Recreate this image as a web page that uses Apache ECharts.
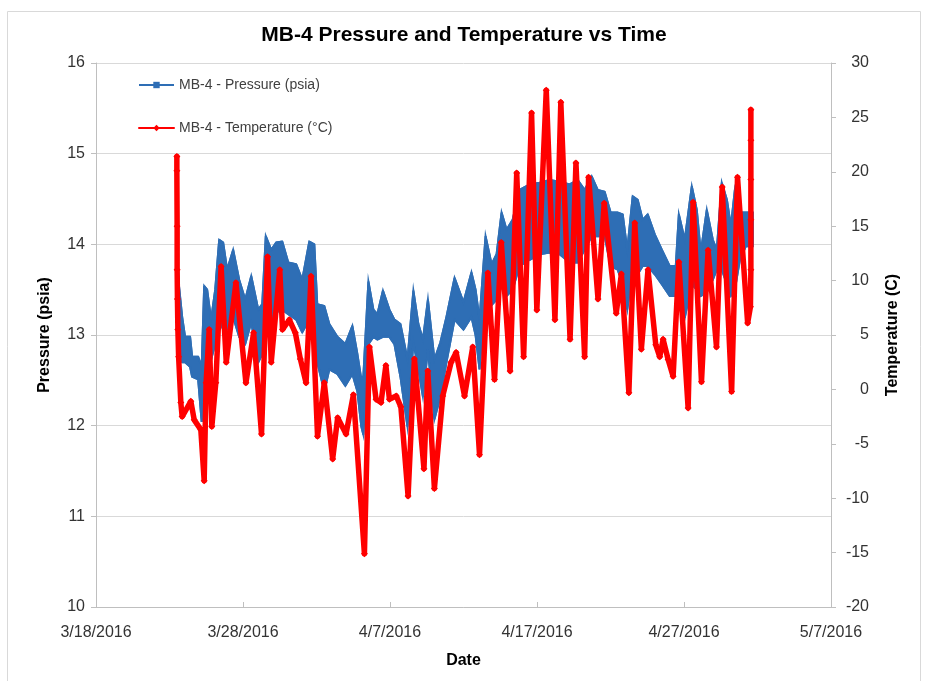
<!DOCTYPE html>
<html>
<head>
<meta charset="utf-8">
<title>MB-4 Pressure and Temperature vs Time</title>
<script src="https://cdn.jsdelivr.net/npm/echarts@6/dist/echarts.min.js"></script>
<style>
  html, body { margin: 0; padding: 0; background: #fff; }
  #chart { width: 928px; height: 681px; }
</style>
</head>
<body>
<div id="chart"></div>
<script>
// x values are days after 3/18/2016
var dateTicks = ['3/18/2016', '3/28/2016', '4/7/2016', '4/17/2016', '4/27/2016', '5/7/2016'];

// pressure: upper and lower edge of the (daily swinging) band, psia
var presDay = [
  5.45, 5.62, 5.86, 6.06, 6.40, 6.54, 6.95, 7.19, 7.36, 7.56,
  7.83, 8.11, 8.38, 8.65, 8.92, 9.33, 9.74, 10.15, 10.56, 11.04,
  11.31, 11.55, 11.92, 12.26, 12.67, 13.08, 13.62, 14.03, 14.51, 14.85,
  15.05, 15.53, 15.87, 16.42, 16.96, 17.44, 17.78, 18.05, 18.19, 18.53,
  18.87, 19.14, 19.52, 19.96, 20.30, 20.71, 21.19, 21.59, 21.93, 22.24,
  22.58, 23.02, 23.43, 23.84, 24.39, 25.00, 25.54, 25.82, 26.09, 26.50,
  26.91, 27.25, 27.59, 27.93, 28.34, 28.81, 29.50, 30.18, 30.86, 31.54,
  32.22, 32.77, 33.24, 33.72, 34.13, 34.60, 35.01, 35.49, 35.83, 36.14,
  36.51, 36.85, 37.19, 37.53, 38.01, 38.49, 39.03, 39.44, 39.65, 40.05,
  40.53, 40.87, 41.14, 41.55, 41.96, 42.23, 42.57, 42.92, 43.19, 43.46,
  43.80, 44.21, 44.69
];
var presHigh = [
  14.20, 13.58, 13.20, 12.98, 12.98, 12.76, 12.76, 12.65, 13.54, 13.50,
  13.17, 13.50, 14.05, 14.02, 13.72, 13.94, 13.61, 13.39, 13.65, 13.28,
  13.34, 14.09, 13.94, 14.02, 14.03, 13.80, 13.78, 13.61, 14.03, 14.00,
  13.34, 13.32, 13.12, 12.98, 12.90, 13.10, 12.79, 12.51, 12.55, 13.59,
  13.28, 13.23, 13.49, 13.28, 13.17, 13.12, 12.73, 13.49, 13.12, 12.95,
  13.39, 12.73, 12.92, 13.20, 13.63, 13.36, 13.69, 13.50, 13.17, 14.09,
  13.78, 13.89, 14.35, 14.16, 14.27, 14.60, 14.66, 14.68, 14.71, 14.69,
  14.66, 14.71, 14.60, 14.75, 14.60, 14.58, 14.35, 14.35, 14.33, 13.94,
  14.53, 14.49, 14.27, 14.33, 14.11, 13.94, 13.76, 13.76, 14.33, 14.05,
  14.64, 14.38, 13.91, 14.38, 14.05, 13.94, 14.68, 14.49, 14.20, 14.60,
  14.35, 14.35, 14.35
];
var presLow = [
  13.87, 13.06, 12.70, 12.70, 12.65, 12.54, 12.51, 12.04, 12.40, 12.90,
  12.73, 12.90, 13.17, 13.06, 13.06, 13.20, 12.98, 12.90, 13.14, 12.70,
  12.79, 13.17, 13.17, 13.25, 13.28, 13.23, 13.17, 13.03, 13.17, 13.06,
  12.70, 12.38, 12.62, 12.57, 12.44, 12.57, 12.38, 11.99, 11.90, 12.90,
  12.98, 12.95, 12.98, 12.98, 12.90, 12.54, 11.99, 12.92, 12.62, 12.32,
  12.84, 12.07, 12.32, 12.70, 13.17, 13.06, 13.20, 13.00, 12.62, 13.43,
  13.33, 13.39, 13.56, 13.43, 13.50, 13.76, 13.83, 13.89, 13.91, 13.89,
  13.80, 13.80, 13.94, 14.09, 14.09, 14.09, 13.76, 13.72, 13.56, 13.28,
  13.72, 13.67, 13.76, 13.76, 13.67, 13.56, 13.43, 13.43, 13.50, 13.19,
  13.56, 13.50, 13.43, 13.47, 13.61, 13.72, 13.72, 13.56, 13.43, 13.50,
  13.83, 13.98, 13.98
];

// temperature, deg C (daily highs / lows)
var tempDay = [
  5.50, 5.50, 5.52, 5.52, 5.54, 5.57, 5.62, 5.77, 5.86, 6.45,
  6.68, 7.13, 7.36, 7.49, 7.70, 7.88, 8.15, 8.51, 8.86, 9.52,
  10.20, 10.72, 11.26, 11.67, 11.92, 12.50, 12.69, 13.15, 13.56, 13.90,
  14.29, 14.63, 15.07, 15.53, 16.10, 16.44, 17.01, 17.51, 18.26, 18.60,
  19.05, 19.39, 19.72, 19.96, 20.42, 20.74, 21.23, 21.66, 22.31, 22.57,
  23.02, 23.59, 24.16, 24.50, 25.07, 25.63, 26.09, 26.66, 27.11, 27.57,
  28.17, 28.62, 29.09, 29.63, 29.99, 30.63, 31.22, 31.62, 32.25, 32.65,
  33.24, 33.51, 34.15, 34.57, 35.39, 35.74, 36.25, 36.65, 37.10, 37.55,
  38.08, 38.35, 38.58, 38.92, 39.26, 39.65, 40.28, 40.62, 41.19, 41.64,
  42.21, 42.60, 43.24, 43.64, 44.33, 44.52, 44.55, 44.55, 44.55, 44.55,
  44.55
];
var tempC = [
  21.4, 20.1, 15.0, 11.0, 8.3, 5.5, 3.0, -1.2, -2.5, -1.1,
  -2.8, -3.7, -8.4, 0.6, 5.5, -3.4, 0.6, 11.3, 2.5, 9.8,
  0.6, 5.2, -4.1, 12.2, 2.5, 11.0, 5.5, 6.4, 5.2, 2.8,
  0.6, 10.4, -4.3, 0.6, -6.4, -2.6, -4.1, -0.5, -15.1, 3.9,
  -0.9, -1.2, 2.2, -0.9, -0.6, -1.6, -9.8, 2.8, -7.3, 1.7,
  -9.1, -0.6, 2.5, 3.4, -0.6, 3.9, -6.0, 10.7, 0.9, 13.5,
  1.7, 19.9, 3.0, 25.4, 7.3, 27.5, 6.4, 26.4, 4.6, 20.8,
  3.0, 19.5, 8.3, 17.1, 7.0, 10.6, -0.3, 15.3, 3.7, 11.0,
  4.1, 3.0, 4.6, 2.75, 1.2, 11.7, -1.7, 17.2, 0.7, 12.8,
  3.9, 18.6, -0.2, 19.5, 6.1, 7.6, 11.0, 15.6, 19.3, 22.9,
  25.7
];

(function () {
  var myChart = echarts.init(document.getElementById('chart'));
  var blue = '#2E6EB5';
  var red = '#FF0000';
  var font = '"Liberation Sans", Arial, sans-serif';

  var highData = presDay.map(function (d, i) { return [d, presHigh[i]]; });
  var lowData = presDay.map(function (d, i) { return [d, presLow[i]]; });
  var tempData = tempDay.map(function (d, i) { return [d, tempC[i]]; });

  var option = {
    animation: false,
    textStyle: { fontFamily: font },
    graphic: [{
      type: 'rect',
      silent: true,
      shape: { x: 7.5, y: 11.5, width: 913, height: 700 },
      style: { fill: 'none', stroke: '#d9d9d9', lineWidth: 1 }
    }],
    title: {
      text: 'MB-4 Pressure and Temperature vs Time',
      left: 'center',
      top: 20,
      textStyle: { fontFamily: font, fontSize: 21, fontWeight: 'bold', color: '#000' }
    },
    legend: {
      orient: 'vertical',
      left: 133,
      top: 73,
      itemWidth: 35,
      itemHeight: 8,
      itemGap: 29,
      data: ['MB-4 - Pressure (psia)', 'MB-4 - Temperature (°C)'],
      lineStyle: { width: 2 },
      textStyle: { fontFamily: font, fontSize: 14, color: '#404040' }
    },
    grid: { left: 96, right: 97, top: 63, bottom: 74 },
    xAxis: {
      type: 'value',
      min: 0,
      max: 50,
      interval: 10,
      name: 'Date',
      nameLocation: 'middle',
      nameGap: 46,
      nameTextStyle: { fontFamily: font, fontSize: 16, fontWeight: 'bold', color: '#000' },
      axisLine: { onZero: false, lineStyle: { color: '#bfbfbf' } },
      axisTick: { inside: true, length: 5, lineStyle: { color: '#bfbfbf' } },
      axisLabel: {
        margin: 18,
        fontSize: 16,
        color: '#333',
        formatter: function (v) { return dateTicks[Math.round(v / 10)]; }
      },
      splitLine: { show: false }
    },
    yAxis: [
      {
        type: 'value',
        position: 'left',
        min: 10,
        max: 16,
        interval: 1,
        name: 'Pressure (psia)',
        nameLocation: 'middle',
        nameRotate: 90,
        nameGap: 43,
        nameTextStyle: { fontFamily: font, fontSize: 16, fontWeight: 'bold', color: '#000' },
        axisLine: { show: true, onZero: false, lineStyle: { color: '#bfbfbf' } },
        axisTick: { show: true, length: 5, lineStyle: { color: '#bfbfbf' } },
        axisLabel: { margin: 11, fontSize: 16, color: '#333' },
        splitLine: { lineStyle: { color: '#d9d9d9' } }
      },
      {
        type: 'value',
        position: 'right',
        min: -20,
        max: 30,
        interval: 5,
        name: 'Temperature (C)',
        nameLocation: 'middle',
        nameRotate: 90,
        nameGap: 54,
        nameTextStyle: { fontFamily: font, fontSize: 16, fontWeight: 'bold', color: '#000' },
        axisLine: { show: true, onZero: false, lineStyle: { color: '#bfbfbf' } },
        axisTick: { show: true, length: 5, lineStyle: { color: '#bfbfbf' } },
        axisLabel: { margin: 38, align: 'right', fontSize: 16, color: '#333' },
        splitLine: { show: false }
      }
    ],
    series: [
      {
        // filled band between the pressure highs and lows
        name: 'pressure band',
        type: 'custom',
        yAxisIndex: 0,
        silent: true,
        z: 1,
        data: [highData[0]],
        renderItem: function (params, api) {
          var pts = [];
          for (var i = 0; i < presDay.length; i++) pts.push(api.coord([presDay[i], presHigh[i]]));
          for (var j = presDay.length - 1; j >= 0; j--) pts.push(api.coord([presDay[j], presLow[j]]));
          return {
            type: 'polygon',
            shape: { points: pts },
            style: { fill: blue, stroke: blue, lineWidth: 2 }
          };
        }
      },
      {
        name: 'MB-4 - Pressure (psia)',
        type: 'line',
        yAxisIndex: 0,
        data: highData,
        symbol: 'rect',
        symbolSize: 6,
        showSymbol: false,
        z: 2,
        lineStyle: { color: blue, width: 2 },
        itemStyle: { color: blue }
      },
      {
        name: 'pressure low',
        type: 'line',
        yAxisIndex: 0,
        data: lowData,
        symbol: 'none',
        z: 2,
        lineStyle: { color: blue, width: 2 }
      },
      {
        name: 'MB-4 - Temperature (°C)',
        type: 'line',
        yAxisIndex: 1,
        data: tempData,
        symbol: 'diamond',
        symbolSize: 7,
        showSymbol: true,
        showAllSymbol: true,
        z: 3,
        lineStyle: { color: red, width: 5.5, join: 'round', cap: 'round' },
        itemStyle: { color: red }
      }
    ]
  };

  myChart.setOption(option);
})();
</script>
</body>
</html>
